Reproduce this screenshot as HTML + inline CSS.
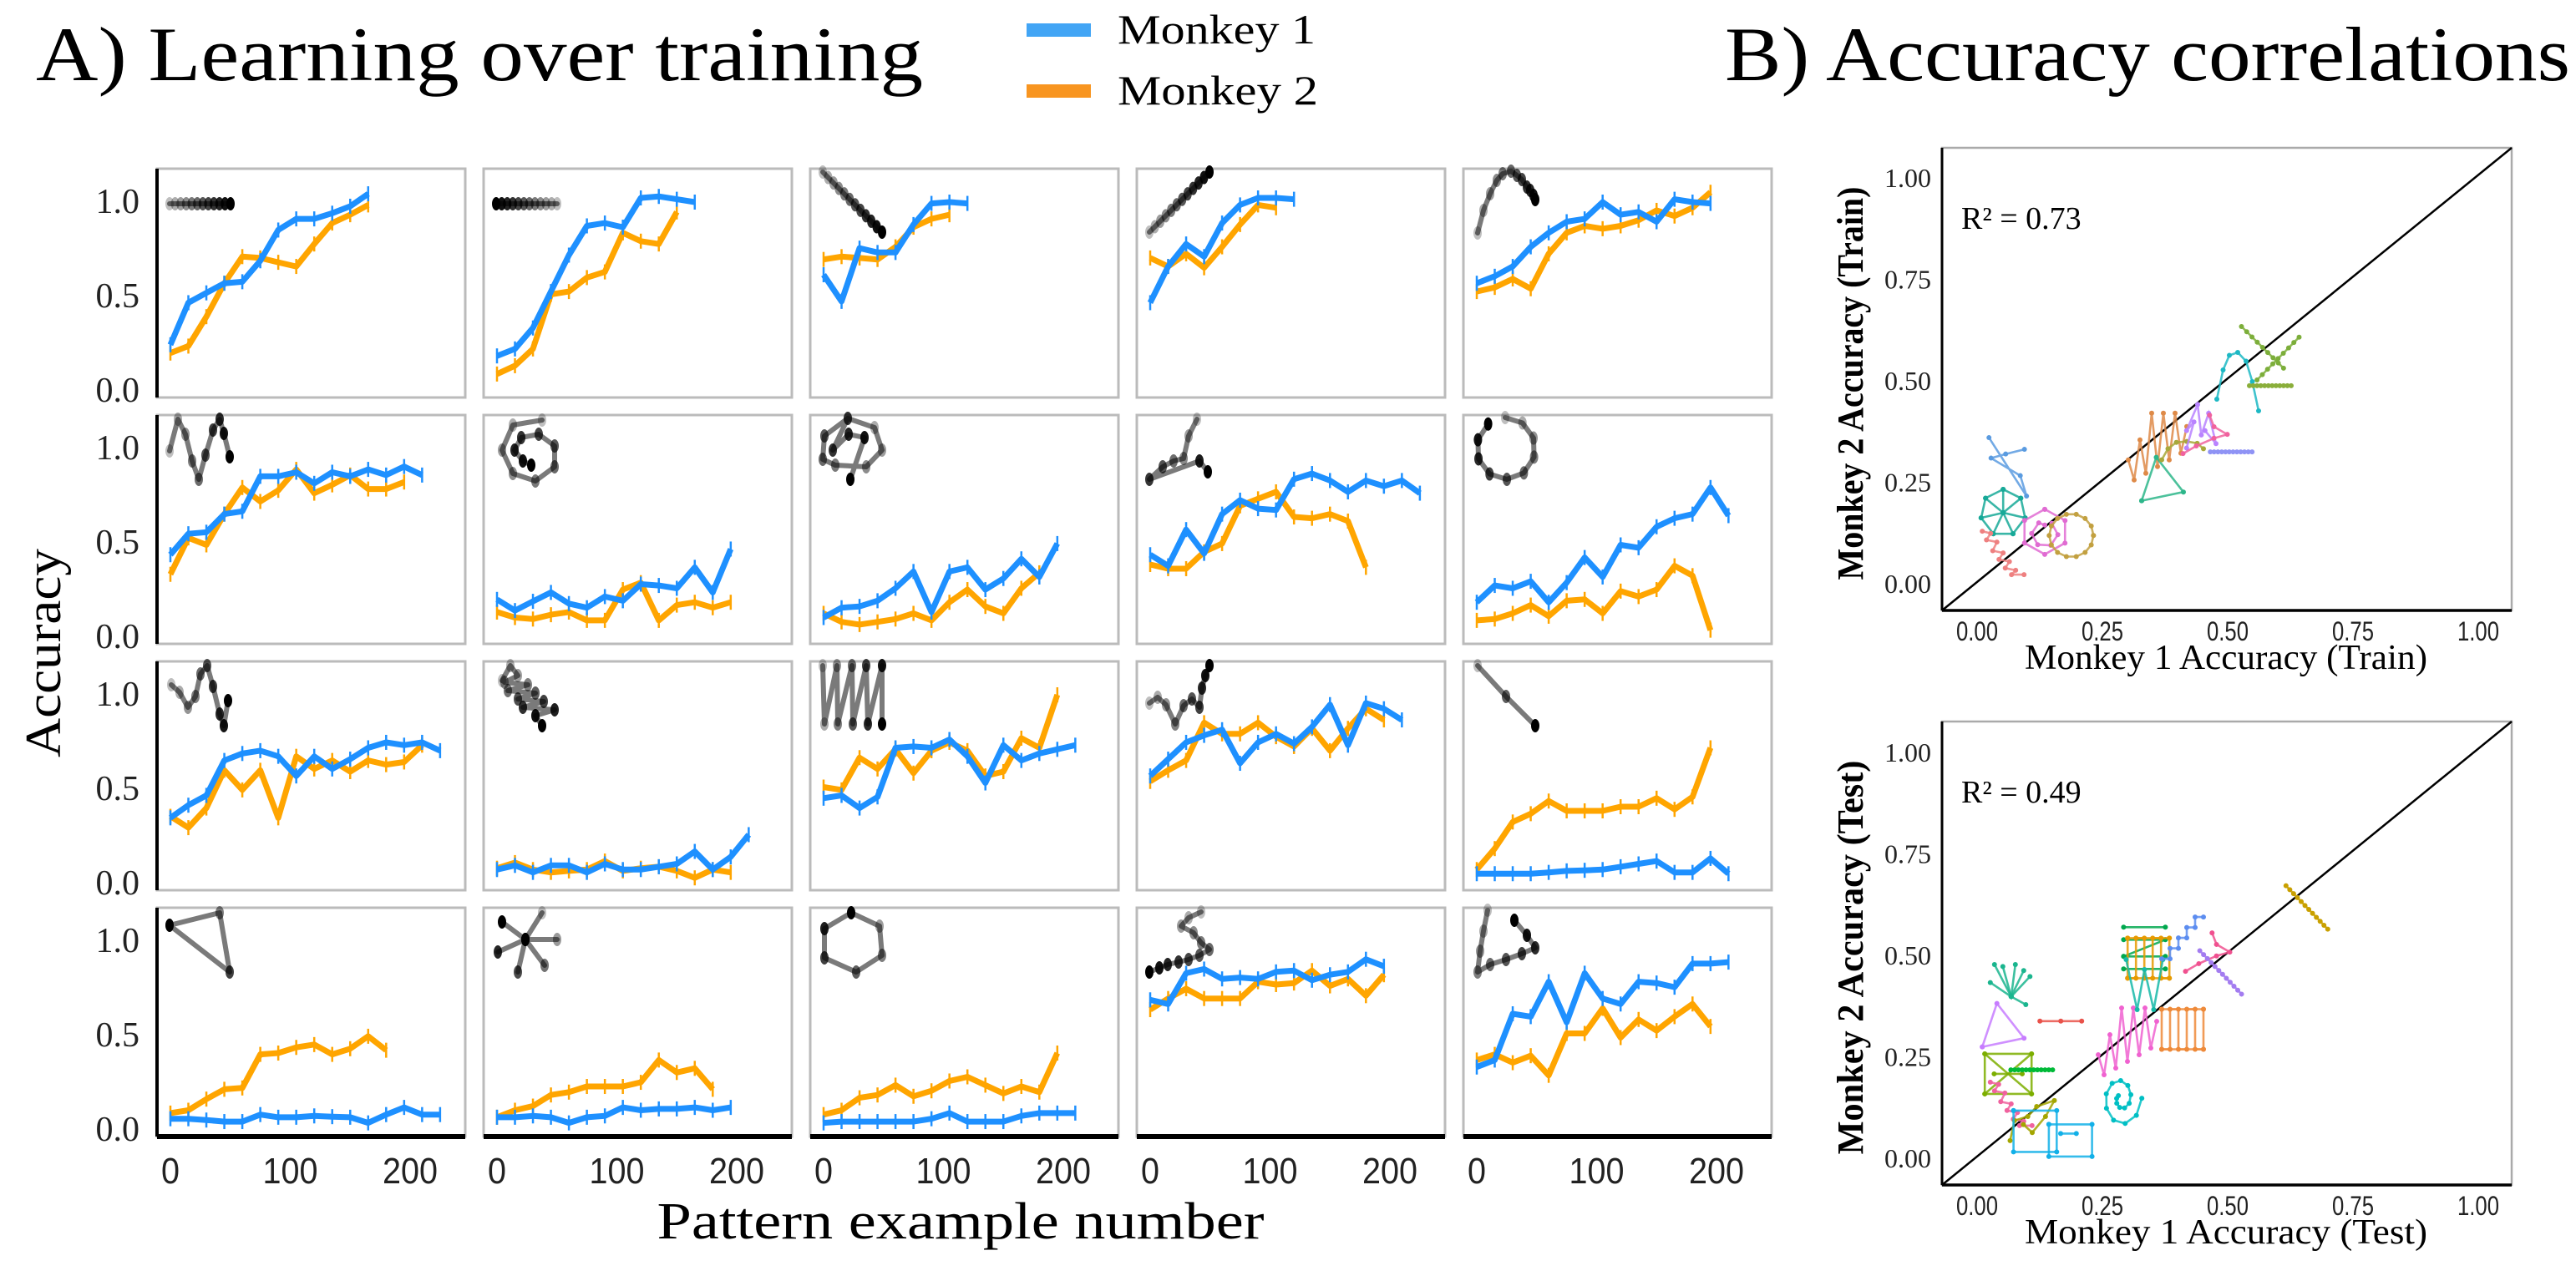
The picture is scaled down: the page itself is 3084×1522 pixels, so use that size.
<!DOCTYPE html>
<html><head><meta charset="utf-8"><style>
html,body{margin:0;padding:0;background:#fff;}
svg{display:block;}
</style></head><body>
<svg id="fig" xmlns="http://www.w3.org/2000/svg" width="3084" height="1522" viewBox="0 0 3084 1522" font-family="'Liberation Serif', serif">
<text x="43" y="96" font-size="92" textLength="1062" lengthAdjust="spacingAndGlyphs">A) Learning over training</text>
<text x="2065" y="96" font-size="92" textLength="1012" lengthAdjust="spacingAndGlyphs">B) Accuracy correlations</text>
<g>
<rect x="1229" y="28" width="77" height="16" fill="#42A5F5"/>
<text x="1338" y="52" font-size="50" textLength="237" lengthAdjust="spacingAndGlyphs">Monkey 1</text>
<rect x="1229" y="101" width="77" height="16" fill="#F89520"/>
<text x="1338" y="125" font-size="50" textLength="240" lengthAdjust="spacingAndGlyphs">Monkey 2</text>
</g>
<text transform="translate(72,782) rotate(-90)" text-anchor="middle" font-size="60" textLength="250" lengthAdjust="spacingAndGlyphs">Accuracy</text>
<text x="1150" y="1483" text-anchor="middle" font-size="62" textLength="727" lengthAdjust="spacingAndGlyphs">Pattern example number</text>
<g id="panelA"></g>
<g id="panelB"></g>
</svg>
<script>
// ---------- Panel A data ----------
const exampleStep = [0,15,30,45,60,75,90,105,120,135,150,165,180,195,210,225];
const yTicksA = [0, 0.5, 1.0];
const yTickLabelsA = ["0.0","0.5","1.0"];
const xTicksA = [0, 100, 200];
const monkey1Acc = [
 [.244,.467,.519,.570,.578,.689,.852,.911,.911,.941,.978,1.044],
 [.185,.222,.333,.526,.719,.874,.889,.867,1.022,1.03,1.015,1.0],
 [.615,.474,.756,.733,.733,.881,.993,1.0,.993],
 [.467,.659,.778,.711,.889,.985,1.022,1.022,1.015],
 [.570,.607,.659,.763,.837,.896,.911,1.0,.933,.948,.896,1.015,1.0,.993],
 [.437,.548,.556,.652,.667,.852,.852,.874,.815,.874,.852,.889,.859,.904,.859],
 [.2,.141,.19,.237,.178,.156,.215,.193,.281,.274,.259,.370,.237,.467],
 [.104,.156,.163,.193,.259,.348,.133,.348,.370,.252,.311,.415,.319,.496],
 [.437,.378,.570,.444,.652,.726,.681,.674,.837,.867,.830,.770,.830,.8,.830,.763],
 [.185,.274,.259,.296,.185,.289,.422,.319,.489,.474,.585,.630,.652,.793,.644],
 [.348,.415,.467,.652,.689,.704,.674,.570,.674,.607,.659,.719,.748,.733,.748,.704],
 [.074,.096,.059,.096,.096,.059,.104,.074,.074,.089,.104,.170,.074,.141,.259],
 [.452,.467,.4,.459,.719,.726,.719,.763,.674,.533,.733,.652,.689,.711,.733],
 [.570,.659,.748,.785,.815,.637,.748,.793,.741,.830,.948,.733,.956,.926,.867],
 [.052,.052,.052,.052,.059,.067,.070,.074,.089,.104,.119,.059,.059,.133,.052],
 [.059,.059,.052,.044,.044,.081,.067,.067,.074,.070,.067,.037,.081,.119,.081,.081],
 [.067,.067,.074,.067,.037,.067,.074,.119,.104,.111,.111,.119,.104,.119],
 [.037,.044,.044,.044,.044,.044,.059,.089,.044,.044,.044,.074,.089,.089,.089],
 [.689,.667,.830,.852,.8,.807,.8,.837,.844,.793,.822,.837,.904,.867],
 [.333,.370,.615,.6,.785,.570,.830,.696,.667,.785,.778,.756,.881,.881,.889]
];
const monkey2Acc = [
 [.2,.237,.393,.570,.711,.704,.681,.659,.778,.889,.933,.985],
 [.089,.133,.222,.511,.526,.6,.63,.837,.793,.778,.948],
 [.696,.711,.704,.696,.763,.867,.911,.933],
 [.704,.659,.726,.652,.763,.881,.985,.970],
 [.526,.548,.593,.541,.726,.837,.874,.859,.874,.904,.956,.926,.970,1.052],
 [.333,.526,.489,.652,.793,.719,.778,.889,.763,.807,.859,.785,.785,.822],
 [.133,.104,.096,.119,.133,.089,.089,.252,.289,.089,.170,.185,.156,.185],
 [.126,.081,.067,.081,.096,.126,.089,.185,.252,.163,.126,.259,.341],
 [.385,.363,.363,.452,.496,.696,.733,.770,.637,.630,.652,.615,.370],
 [.089,.096,.126,.170,.111,.193,.2,.126,.244,.215,.252,.378,.326,.037],
 [.356,.296,.4,.6,.496,.6,.348,.674,.607,.652,.593,.652,.630,.644,.733],
 [.081,.111,.074,.059,.067,.074,.119,.067,.081,.089,.067,.030,.074,.059],
 [.511,.496,.667,.607,.711,.585,.704,.748,.704,.570,.593,.770,.719,1.0],
 [.541,.6,.652,.852,.793,.793,.852,.778,.726,.822,.704,.822,.926,.867],
 [.074,.185,.326,.370,.437,.385,.385,.385,.407,.407,.452,.393,.459,.719],
 [.089,.104,.163,.215,.222,.4,.407,.437,.452,.4,.430,.496,.422],
 [.067,.104,.126,.185,.2,.230,.230,.230,.252,.370,.304,.326,.215],
 [.081,.104,.170,.185,.237,.178,.207,.259,.281,.237,.193,.230,.2,.407],
 [.637,.696,.748,.696,.696,.696,.785,.770,.778,.844,.763,.8,.711,.822],
 [.370,.4,.356,.393,.289,.511,.511,.644,.489,.585,.526,.6,.667,.548]
];

// ---------- Panel B data ----------
const trainMonkey1 = [0.057,0.052,0.052,0.135,0.188,0.36,0.37,0.41,0.44,0.455,0.507,0.52,0.585,0.585];
const trainMonkey2 = [0.29,0.177,0.078,0.13,0.121,0.34,0.26,0.33,0.39,0.37,0.327,0.5,0.57,0.49];
const trainPattern = ["kite","heptstar","zigdiag","hexspiral","circle","wzig","tri","arc","zigv","bentline","hline","invU","xdiag","hline"];
const testMonkey1 = [0.068,0.052,0.167,0.062,0.109,0.068,0.11,0.151,0.287,0.30,0.41,0.334,0.342,0.334,0.41,0.46,0.486,0.658];
const testMonkey2 = [0.43,0.33,0.34,0.21,0.22,0.136,0.095,0.063,0.15,0.29,0.32,0.52,0.495,0.43,0.545,0.51,0.46,0.62];
const testPattern = ["fan","tri","hline3","xbox","hline","zigdiag","hook","sqspiral","spiral","wzig","comb","xbox2","comb","wtall","stair","bentline","diagdown","diagdown"];
const r2Labels = ["R² = 0.73","R² = 0.49"];
const bTicks = [0,0.25,0.5,0.75,1.0];
const bTickLabels = ["0.00","0.25","0.50","0.75","1.00"];

const NS = "http://www.w3.org/2000/svg";
function mk(tag, attrs, parent){
  const el = document.createElementNS(NS, tag);
  for (const k in attrs) el.setAttribute(k, attrs[k]);
  parent.appendChild(el);
  return el;
}

// ---------- Panel A drawing ----------
const colLeft = [188,579,970,1361,1752];
const rowTop = [202,497,792,1087];
const PW = 369, PH = 274;
function xA(c, v){ return colLeft[c] + 16 + v*1.435; }
function yA(r, v){ return rowTop[r] + 266 - v*226; }

function dense(a,b,n){const p=[];for(let i=0;i<n;i++){p.push([a[0]+(b[0]-a[0])*i/(n-1),a[1]+(b[1]-a[1])*i/(n-1)]);}return p;}
function ring(cx,cy,rx,ry,n,start){const p=[];for(let i=0;i<n;i++){const t=start+i*2*Math.PI/n;p.push([cx+rx*Math.cos(t),cy+ry*Math.sin(t)]);}return p;}
const icons = [
 {p:dense([15,42],[88,42],12)},
 {p:dense([88,42],[15,42],12)},
 {p:dense([15,4],[86,76],12)},
 {p:dense([15,76],[87,4],12)},
 {p:[[17,77],[24,50],[32,30],[40,14],[47,6],[57,3],[64,8],[70,13],[76,22],[80,26],[84,32],[86,37]]},
 {p:[[15,43],[25,5],[34,23],[42,55],[50,77],[58,48],[67,18],[75,5],[80,22],[87,50]]},
 {p:[[70,6],[35,12],[22,42],[35,70],[62,79],[85,62],[85,37],[66,23],[45,27],[37,42],[47,55],[57,60]]},
 {p:[[45,4],[77,15],[86,42],[67,62],[30,60],[15,53],[17,25],[45,4],[27,42],[46,23],[65,27],[48,77]]},
 {p:[[72,5],[62,25],[56,52],[44,55],[31,62],[15,77],[75,55],[85,68]]},
 {p:ring(51,40,35,37,10,-1.6)},
 {p:[[17,28],[27,37],[37,55],[46,42],[52,15],[60,5],[67,30],[75,63],[80,77],[85,47]]},
 {p:[[22,23],[32,5],[41,17],[25,25],[53,28],[29,35],[62,38],[41,45],[72,48],[47,55],[85,58],[62,65],[70,77]]},
 {p:[[15,5],[17,75],[32,5],[33,75],[50,5],[51,75],[67,5],[69,75],[86,5],[86,75]]},
 {p:[[15,50],[25,43],[35,52],[46,75],[56,53],[66,45],[75,55],[78,32],[82,17],[87,5]]},
 {p:[[17,5],[51,42],[86,77]]},
 {p:[[15,21],[75,6],[87,77],[15,21]]},
 {p:[[70,6],[50,38],[88,38],[50,38],[73,69],[50,38],[41,77],[50,38],[17,53],[50,38],[22,17]]},
 {p:[[49,6],[83,22],[86,57],[55,77],[17,60],[17,25],[49,6]]},
 {p:[[77,5],[62,12],[53,22],[68,30],[77,42],[87,50],[75,57],[62,62],[50,65],[37,68],[27,72],[15,77]]},
 {p:[[29,3],[24,28],[20,52],[17,77],[32,68],[51,62],[70,55],[86,48],[76,33],[61,15]]}
];

const gA = document.getElementById('panelA');
for (let r=0;r<4;r++){
  for (let c=0;c<5;c++){
    const k = r*5+c;
    const g = mk('g',{},gA);
    
    
    const box = mk('rect',{x:colLeft[c],y:rowTop[r],width:PW,height:PH,fill:'none',stroke:'#bbbbbb','stroke-width':3},g);
    
    
    if (c===0){
      const sp = mk('line',{x1:colLeft[0],y1:rowTop[r],x2:colLeft[0],y2:rowTop[r]+PH,stroke:'#000','stroke-width':4},g);
      
      
      yTicksA.forEach((v,i)=>{
        const t = mk('text',{x:167,y:yA(r,v)+13,'text-anchor':'end','font-size':42,fill:'#222'},g);
        
        
        t.textContent = yTickLabelsA[i];
      });
    }
    if (r===3){
      const sp = mk('line',{x1:colLeft[c],y1:rowTop[3]+PH,x2:colLeft[c]+PW,y2:rowTop[3]+PH,stroke:'#000','stroke-width':6},g);
      
      
      xTicksA.forEach(v=>{
        const t = mk('text',{x:xA(c,v),y:1417,'text-anchor':'middle','font-size':44,'font-family':"'Liberation Sans', sans-serif",fill:'#222',textLength:(v===0?22:66),lengthAdjust:'spacingAndGlyphs'},g);
        
        
        t.textContent = String(v);
      });
    }
    const ic = icons[k].p;
    const ig = mk('g',{},g);
    
    
    const ipts = ic.map(p=>(colLeft[c]+p[0])+','+(rowTop[r]+p[1])).join(' ');
    mk('polyline',{points:ipts,fill:'none',stroke:'#7a7a7a','stroke-width':6,'stroke-linejoin':'round','stroke-linecap':'round'},ig);
    ic.forEach((p,i)=>{
      const op = 0.25 + 0.75*i/Math.max(1,ic.length-1);
      mk('ellipse',{cx:colLeft[c]+p[0],cy:rowTop[r]+p[1],rx:5,ry:8,fill:'#000','fill-opacity':op.toFixed(2)},ig);
    });
    [[monkey2Acc[k],'#FFA500','monkey-2-line'],[monkey1Acc[k],'#1E90FF','monkey-1-line']].forEach(([vals,col,nm])=>{
      const pts = vals.map((v,i)=>xA(c,exampleStep[i]).toFixed(1)+','+yA(r,v).toFixed(1)).join(' ');
      const pl = mk('polyline',{points:pts,fill:'none',stroke:col,'stroke-width':7,'stroke-linejoin':'round'},g);
      
      
      vals.forEach((v,i)=>{
        const eb = mk('line',{x1:xA(c,exampleStep[i]),x2:xA(c,exampleStep[i]),y1:yA(r,v)-9,y2:yA(r,v)+9,stroke:col,'stroke-width':2.5},g);
        
        
      });
    });
  }
}

// ---------- Panel B drawing ----------
const gB = document.getElementById('panelB');
function spiralPts(n,turns,r0){const p=[];for(let i=0;i<n;i++){const t=i/(n-1);const a=t*turns*2*Math.PI;const rr=r0*(1-t*0.85);p.push([rr*Math.cos(a),rr*Math.sin(a)]);}return p;}
const shapes = {
 kite:{w:50,h:70,lines:[[[-.4,-.5],[.5,.5],[.35,.15],[-.35,-.15],[.0,-.22],[.45,-.3]]]},
 heptstar:{w:54,h:56,lines:[ring(0,0,.5,.5,7,-1.57).concat([[0,-.5]]),[[0,0],[0,-.5]],[[0,0],[.39,-.31]],[[0,0],[.49,.11]],[[0,0],[.22,.45]],[[0,0],[-.22,.45]],[[0,0],[-.49,.11]],[[0,0],[-.39,-.31]]]},
 zigdiag:{w:50,h:52,lines:[[[-.5,-.5],[-.3,-.45],[-.4,-.3],[-.15,-.25],[-.25,-.05],[0,0],[-.1,.15],[.15,.2],[.05,.35],[.3,.4],[.2,.5],[.5,.5]]]},
 hexspiral:{w:56,h:54,lines:[ring(0,0,.5,.5,6,-1.57).concat([[0,-.5]]),ring(0,.05,.28,.28,6,-1).concat([[0,-.15]])]},
 circle:{w:53,h:52,lines:[ring(0,0,.5,.5,14,0).concat([[.5,0]])]},
 wzig:{w:70,h:80,lines:[[[-.5,.2],[-.4,.5],[-.3,-.1],[-.2,.4],[-.1,-.5],[0,.3],[.1,-.5],[.2,.2],[.3,-.5],[.4,.1],[.5,-.3]]]},
 tri:{w:50,h:52,lines:[[[-.5,.5],[.5,.3],[-.15,-.5],[-.5,.5]]]},
 arc:{w:50,h:22,lines:[[[-.5,.5],[-.35,-.1],[-.15,-.45],[.1,-.5],[.35,-.4],[.5,-.1]]]},
 zigv:{w:44,h:52,lines:[[[-.3,.5],[-.1,-.1],[-.3,.1],[0,-.5],[.1,.2],[.3,-.3],[.5,.4],[.2,.1]]]},
 bentline:{w:53,h:46,lines:[[[-.5,.5],[-.2,.3],[.2,.1],[.5,.0],[.2,-.2],[.1,-.5]]]},
 hline:{w:50,h:2,lines:[dense([-.5,0],[.5,0],12)]},
 hline3:{w:50,h:2,lines:[dense([-.5,0],[.5,0],3)]},
 invU:{w:50,h:70,lines:[[[-.5,.3],[-.35,-.2],[-.2,-.45],[0,-.5],[.2,-.35],[.35,0],[.5,.5]]]},
 xdiag:{w:69,h:64,lines:[dense([-.5,-.5],[.23,.28],9),dense([-.23,.5],[.5,-.3],9)]},
 fan:{w:50,h:48,lines:[[[-.4,-.5],[0,.3],[.1,-.5]],[[0,.3],[.45,-.2]],[[0,.3],[-.5,-.05]],[[0,.3],[.35,.5]],[[0,.3],[.3,-.35]],[[0,.3],[-.2,-.45]]]},
 xbox:{w:56,h:48,lines:[[[-.5,-.5],[.5,-.5],[.5,.5],[-.5,.5],[-.5,-.5],[.5,.5]],[[.5,-.5],[-.5,.5]],[[-.3,0],[.3,0]]]},
 xbox2:{w:50,h:50,lines:[[[-.5,-.5],[.5,-.5]],[[-.5,-.2],[.5,-.2],[-.5,.2]],[[-.5,.2],[.5,.2]],[[-.5,.5],[.5,.5]]]},
 hook:{w:53,h:48,lines:[[[-.5,.5],[-.4,.0],[-.1,-.1],[.1,-.35],[.5,-.5],[.3,-.1],[0,.3],[-.2,.1]]]},
 sqspiral:{w:94,h:55,lines:[[[-.5,-.5],[.05,-.5],[.05,.4],[-.5,.4],[-.5,-.5]],[[-.05,-.2],[.5,-.2],[.5,.5],[-.05,.5],[-.05,-.2]],[[.1,0],[.3,0]]]},
 spiral:{w:50,h:70,lines:[spiralPts(16,1.6,.5)]},
 comb:{w:50,h:48,lines:[[[-.5,-.5],[-.5,.5],[-.3,.5],[-.3,-.5],[-.1,-.5],[-.1,.5],[.1,.5],[.1,-.5],[.3,-.5],[.3,.5],[.5,.5],[.5,-.5]],[[-.5,-.5],[.5,-.5]],[[-.5,.5],[.5,.5]]]},
 wtall:{w:44,h:60,lines:[[[-.5,-.5],[-.2,.5],[0,-.3],[.25,.5],[.5,-.5]]]},
 stair:{w:50,h:50,lines:[[[-.5,.5],[-.3,.5],[-.3,.25],[-.1,.25],[-.1,0],[.1,0],[.1,-.25],[.3,-.25],[.3,-.5],[.5,-.5]]]},
 diagdown:{w:50,h:52,lines:[dense([-.5,-.5],[.5,.5],12)]}
};
const trainColors = ["#5A9BE0","#17A998","#EE8080","#E06BD2","#C2A040","#DE8A48","#2DB68A","#A8A83A","#B983FF","#F0629E","#8F93F5","#1DB8C4","#7CAE3A","#8AAE3A"];
const testColors = ["#1AB58E","#C77CFF","#E9524A","#7CAE00","#00BA38","#F0629E","#A3A500","#12B0E8","#00BFC4","#F062D0","#EE8A3A","#00A84E","#E69A00","#16B8A8","#5C8DF0","#F0508F","#A37CF0","#C9A000"];

function drawShape(parent, cx, cy, key, col){
  const s = shapes[key];
  const g = mk('g',{},parent);
  
  
  s.lines.forEach(line=>{
    const pts = line.map(p=>(cx+p[0]*s.w).toFixed(1)+','+(cy+p[1]*s.h).toFixed(1)).join(' ');
    mk('polyline',{points:pts,fill:'none',stroke:col,'stroke-width':2.6,'stroke-opacity':0.85},g);
    line.forEach(p=>mk('circle',{cx:cx+p[0]*s.w,cy:cy+p[1]*s.h,r:3,fill:col},g));
  });
}

function scatterPanel(top, bottom, y0px, m1, m2, pat, cols, r2, xl, yl, nm){
  const L=2325, R=3007;
  const g = mk('g',{},gB);
  
  
  const xs = v=>2367+v*600;
  const ys = v=>y0px - v*486;
  const fr = mk('rect',{x:L,y:top,width:R-L,height:bottom-top,fill:'none',stroke:'#aaaaaa','stroke-width':2.5},g);
  
  
  const ls = mk('line',{x1:L,y1:top,x2:L,y2:bottom,stroke:'#000','stroke-width':3},g);
  
  
  const bs = mk('line',{x1:L,y1:bottom,x2:R,y2:bottom,stroke:'#000','stroke-width':3.5},g);
  
  
  const dg = mk('line',{x1:L,y1:bottom,x2:R,y2:top,stroke:'#000','stroke-width':2.5},g);
  
  
  bTicks.forEach((v,i)=>{
    const t = mk('text',{x:2312,y:ys(v)+10,'text-anchor':'end','font-size':32,fill:'#222'},g);
    
    
    t.textContent = bTickLabels[i];
    const u = mk('text',{x:xs(v),y:bottom+36,'text-anchor':'middle','font-size':32,'font-family':"'Liberation Sans', sans-serif",fill:'#222',textLength:50,lengthAdjust:'spacingAndGlyphs'},g);
    
    
    u.textContent = bTickLabels[i];
  });
  const rt = mk('text',{x:2348,y:top+97,'font-size':38},g);
  
  
  rt.textContent = r2;
  const xt = mk('text',{x:2665,y:bottom+70,'text-anchor':'middle','font-size':42,textLength:482,lengthAdjust:'spacingAndGlyphs'},g);
  
  
  xt.textContent = xl;
  const yt = mk('text',{transform:'translate(2230,'+((top+bottom)/2+5)+') rotate(-90)','text-anchor':'middle','font-size':44,'font-weight':'bold',textLength:(bottom-top)*0.85,lengthAdjust:'spacingAndGlyphs'},g);
  
  
  yt.textContent = yl;
  m1.forEach((v,i)=>drawShape(g, xs(v), ys(m2[i]), pat[i], cols[i]));
}
scatterPanel(177,731,700,trainMonkey1,trainMonkey2,trainPattern,trainColors,r2Labels[0],"Monkey 1 Accuracy (Train)","Monkey 2 Accuracy (Train)","train-scatter");
scatterPanel(864,1419,1388,testMonkey1,testMonkey2,testPattern,testColors,r2Labels[1],"Monkey 1 Accuracy (Test)","Monkey 2 Accuracy (Test)","test-scatter");
</script>
</body></html>
